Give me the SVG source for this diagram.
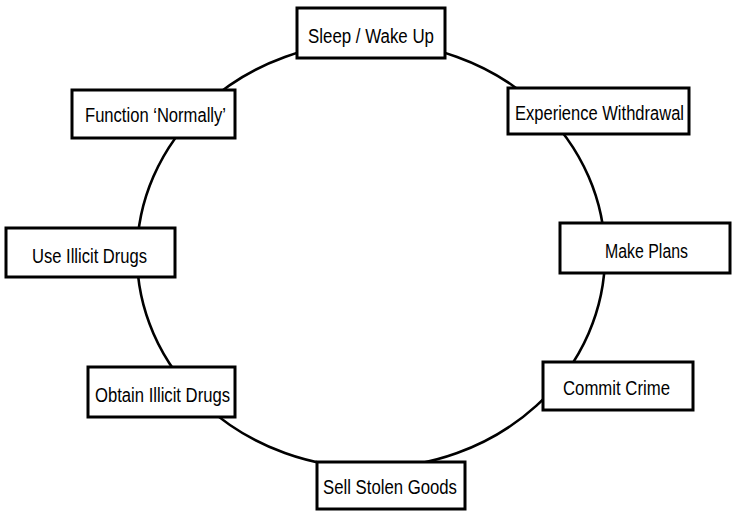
<svg xmlns="http://www.w3.org/2000/svg" width="733" height="511" viewBox="0 0 733 511">
<style>
.box{fill:#fff;stroke:#000;stroke-width:3}
.lbl{font-family:"Liberation Sans",Arial,sans-serif;font-size:20px;fill:#000;text-anchor:middle}
.ring{fill:none;stroke:#000;stroke-width:2.6}
</style>
<rect width="733" height="511" fill="#fff"/>
<g id="connectors">
<ellipse class="ring" cx="371" cy="255" rx="234" ry="213"/>
</g>
<g id="sleep"><rect class="box" x="297" y="8" width="148" height="50"/><text class="lbl" x="371" y="43" textLength="126" lengthAdjust="spacingAndGlyphs">Sleep / Wake Up</text></g>
<g id="withdrawal"><rect class="box" x="508" y="88" width="181" height="46"/><text class="lbl" x="599.5" y="120" textLength="169" lengthAdjust="spacingAndGlyphs">Experience Withdrawal</text></g>
<g id="plans"><rect class="box" x="560" y="223" width="170" height="50"/><text class="lbl" x="646.5" y="258" textLength="83" lengthAdjust="spacingAndGlyphs">Make Plans</text></g>
<g id="crime"><rect class="box" x="543" y="362" width="150" height="48"/><text class="lbl" x="616.5" y="395" textLength="107" lengthAdjust="spacingAndGlyphs">Commit Crime</text></g>
<g id="sell"><rect class="box" x="317" y="462" width="148" height="47"/><text class="lbl" x="390" y="494" textLength="134" lengthAdjust="spacingAndGlyphs">Sell Stolen Goods</text></g>
<g id="obtain"><rect class="box" x="88" y="367" width="147" height="50"/><text class="lbl" x="162.5" y="402" textLength="135" lengthAdjust="spacingAndGlyphs">Obtain Illicit Drugs</text></g>
<g id="use"><rect class="box" x="6" y="228" width="169" height="49"/><text class="lbl" x="89.5" y="263" textLength="115" lengthAdjust="spacingAndGlyphs">Use Illicit Drugs</text></g>
<g id="function"><rect class="box" x="72" y="90" width="163" height="48"/><text class="lbl" x="155.5" y="122" textLength="141" lengthAdjust="spacingAndGlyphs">Function ‘Normally’</text></g>
</svg>
